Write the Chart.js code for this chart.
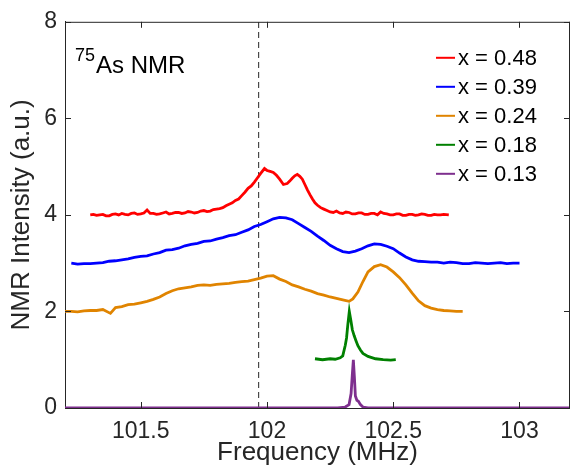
<!DOCTYPE html>
<html>
<head>
<meta charset="utf-8">
<script src="https://cdn.jsdelivr.net/npm/chart.js@4.4.1/dist/chart.umd.min.js"></script>
<style>
  html, body { margin: 0; padding: 0; background: #fff; }
  #wrap { width: 570px; height: 466px; }
</style>
</head>
<body>
<div id="wrap"><canvas id="nmrChart" width="570" height="466"></canvas></div>
<script>
// Series: x = 0.48
const redFreq = [101.3, 101.3125, 101.325, 101.3375, 101.35, 101.3625, 101.375, 101.3875, 101.4, 101.4125,
  101.425, 101.4375, 101.45, 101.4625, 101.475, 101.4875, 101.5, 101.5125, 101.525, 101.5375,
  101.55, 101.5625, 101.575, 101.5875, 101.6, 101.6125, 101.625, 101.6375, 101.65, 101.6625,
  101.675, 101.6875, 101.7, 101.7125, 101.725, 101.7375, 101.75, 101.7625, 101.775, 101.7875,
  101.8, 101.8125, 101.825, 101.8375, 101.85, 101.8625, 101.875, 101.8875, 101.9, 101.9125,
  101.925, 101.9375, 101.95, 101.9625, 101.975, 101.99, 102.0, 102.0125, 102.025, 102.0375,
  102.05, 102.065, 102.08, 102.09, 102.1, 102.11, 102.12, 102.13, 102.14, 102.15,
  102.16, 102.17, 102.18, 102.19, 102.2, 102.2125, 102.225, 102.2375, 102.25, 102.2625,
  102.275, 102.2875, 102.3, 102.3125, 102.325, 102.3375, 102.35, 102.3625, 102.375, 102.3875,
  102.4, 102.4125, 102.425, 102.4375, 102.45, 102.4625, 102.475, 102.4875, 102.5, 102.5125,
  102.525, 102.5375, 102.55, 102.5625, 102.575, 102.5875, 102.6, 102.6125, 102.625, 102.6375,
  102.65, 102.6625, 102.675, 102.6875, 102.7, 102.72];
const redInt = [4.0, 4.01, 3.99, 4.0, 4.01, 3.98, 3.98, 4.01, 4.02, 4.0,
  4.03, 4.01, 4.0, 4.03, 4.04, 4.01, 4.02, 4.04, 4.1, 4.03,
  4.03, 4.01, 4.02, 4.04, 4.06, 4.02, 4.03, 4.05, 4.05, 4.03,
  4.04, 4.07, 4.06, 4.04, 4.05, 4.08, 4.09, 4.07, 4.08, 4.11,
  4.12, 4.13, 4.15, 4.19, 4.22, 4.25, 4.3, 4.33, 4.4, 4.47,
  4.55, 4.6, 4.68, 4.77, 4.86, 4.96, 4.92, 4.9, 4.88, 4.82,
  4.74, 4.63, 4.65, 4.7, 4.76, 4.81, 4.84, 4.8, 4.74, 4.63,
  4.52, 4.42, 4.33, 4.25, 4.2, 4.15, 4.12, 4.09, 4.06, 4.05,
  4.08, 4.04, 4.03, 4.06, 4.05, 4.02, 4.02, 4.04, 4.04, 4.01,
  4.01, 4.03, 4.03, 4.0, 4.06, 4.03, 4.02, 4.0, 4.0, 4.02,
  4.02, 3.99, 3.99, 4.01, 4.01, 3.99, 4.0, 4.02, 4.01, 3.99,
  3.99, 4.01, 4.0, 4.0, 4.01, 4.0];

// Series: x = 0.39
const blueFreq = [101.225, 101.25, 101.275, 101.3, 101.325, 101.35, 101.375, 101.4, 101.425, 101.45,
  101.475, 101.5, 101.525, 101.55, 101.575, 101.6, 101.625, 101.65, 101.675, 101.7,
  101.725, 101.75, 101.775, 101.8, 101.825, 101.85, 101.875, 101.9, 101.925, 101.95,
  101.975, 102.0, 102.025, 102.05, 102.075, 102.1, 102.125, 102.15, 102.175, 102.2,
  102.225, 102.25, 102.275, 102.3, 102.325, 102.35, 102.375, 102.4, 102.425, 102.45,
  102.475, 102.5, 102.525, 102.55, 102.575, 102.6, 102.625, 102.65, 102.675, 102.7,
  102.725, 102.75, 102.775, 102.8, 102.825, 102.85, 102.875, 102.9, 102.925, 102.95,
  102.975, 103.0];
const blueInt = [3.0, 2.98, 2.99, 2.99, 3.0, 3.01, 3.04, 3.05, 3.07, 3.09,
  3.12, 3.14, 3.15, 3.19, 3.22, 3.27, 3.28, 3.31, 3.36, 3.39,
  3.41, 3.45, 3.46, 3.5, 3.53, 3.57, 3.59, 3.64, 3.69, 3.76,
  3.8, 3.86, 3.92, 3.95, 3.94, 3.9, 3.82, 3.74, 3.66, 3.56,
  3.47, 3.37, 3.3, 3.24, 3.22, 3.25, 3.3, 3.36, 3.4, 3.39,
  3.35, 3.3, 3.21, 3.13, 3.07, 3.04, 3.03, 3.02, 3.02, 3.0,
  3.02, 3.01, 2.99, 2.99, 3.01, 3.0, 2.99, 3.0, 3.01, 2.99,
  3.0, 3.0];

// Series: x = 0.24
const orangeFreq = [101.2, 101.225, 101.25, 101.275, 101.3, 101.325, 101.35, 101.38, 101.4, 101.425,
  101.45, 101.475, 101.5, 101.525, 101.55, 101.575, 101.6, 101.625, 101.65, 101.675,
  101.7, 101.725, 101.75, 101.775, 101.8, 101.825, 101.85, 101.875, 101.9, 101.925,
  101.95, 101.975, 102.0, 102.025, 102.05, 102.075, 102.1, 102.125, 102.15, 102.175,
  102.2, 102.225, 102.25, 102.275, 102.3, 102.325, 102.34, 102.36, 102.38, 102.4,
  102.425, 102.45, 102.475, 102.5, 102.525, 102.55, 102.575, 102.6, 102.625, 102.65,
  102.675, 102.7, 102.725, 102.75, 102.775];
const orangeInt = [2.0, 2.0, 1.99, 2.01, 2.02, 2.02, 2.04, 1.96, 2.08, 2.1,
  2.14, 2.15, 2.18, 2.21, 2.25, 2.3, 2.37, 2.43, 2.47, 2.49,
  2.51, 2.54, 2.55, 2.54, 2.56, 2.57, 2.58, 2.6, 2.62, 2.63,
  2.66, 2.69, 2.73, 2.74, 2.67, 2.62, 2.55, 2.51, 2.46, 2.42,
  2.37, 2.34, 2.3, 2.27, 2.24, 2.21, 2.26, 2.4, 2.62, 2.82,
  2.93, 2.97, 2.92, 2.82, 2.7, 2.55, 2.38, 2.22, 2.12, 2.07,
  2.04, 2.02, 2.01, 2.0, 2.0];

// Series: x = 0.18
const greenFreq = [102.19, 102.22, 102.25, 102.27, 102.29, 102.3, 102.31, 102.315, 102.32, 102.326,
  102.332, 102.338, 102.345, 102.352, 102.36, 102.37, 102.38, 102.4, 102.43, 102.46, 102.49, 102.51];
const greenInt = [1.02, 1.0, 1.02, 1.01, 1.04, 1.08, 1.3, 1.45, 1.72, 2.0,
  1.82, 1.62, 1.5, 1.4, 1.29, 1.2, 1.13, 1.07, 1.02, 1.0, 0.99, 1.0];

// Series: x = 0.13
const purpleFreq = [101.2, 102.28, 102.31, 102.325, 102.333, 102.338, 102.342, 102.346, 102.35, 102.356,
  102.362, 102.37, 102.38, 102.4, 103.2];
const purpleInt = [0, 0, 0.02, 0.07, 0.3, 0.7, 1.0, 0.65, 0.25, 0.16,
  0.14, 0.07, 0.02, 0, 0];

const seriesLabels = ["x = 0.48", "x = 0.39", "x = 0.24", "x = 0.18", "x = 0.13"];
const dashFreq = 101.967;   // dashed reference line
const xTicks = [101.5, 102, 102.5, 103];
const yTicks = [0, 2, 4, 6, 8];

const axisColor = "#262626";
const fontFamily = "'Liberation Sans', Arial, Helvetica, sans-serif";

function pts(xs, ys) {
  return xs.map((v, i) => ({ x: v, y: ys[i] }));
}

function line(label, xs, ys, color) {
  return {
    label: label,
    data: pts(xs, ys),
    borderColor: color,
    backgroundColor: color,
    borderWidth: 2.8,
    pointRadius: 0,
    tension: 0,
  };
}

// axes box, inward ticks, legend and the 75As label
const decor = {
  id: "decor",
  afterDatasetsDraw(chart) {
    const { ctx, chartArea: a, scales } = chart;
    const x = scales.x, y = scales.y;
    ctx.save();
    ctx.strokeStyle = axisColor;
    ctx.lineWidth = 1;
    ctx.beginPath();
    ctx.moveTo(a.left, a.top + 0.5);
    ctx.lineTo(a.right, a.top + 0.5);
    ctx.moveTo(a.right - 0.5, a.top);
    ctx.lineTo(a.right - 0.5, a.bottom);
    x.ticks.forEach((t) => {
      const px = Math.round(x.getPixelForValue(t.value)) + 0.5;
      ctx.moveTo(px, a.bottom);
      ctx.lineTo(px, a.bottom - 6);
      ctx.moveTo(px, a.top);
      ctx.lineTo(px, a.top + 6);
    });
    y.ticks.forEach((t) => {
      const py = Math.round(y.getPixelForValue(t.value)) + 0.5;
      ctx.moveTo(a.left, py);
      ctx.lineTo(a.left + 6, py);
      ctx.moveTo(a.right, py);
      ctx.lineTo(a.right - 6, py);
    });
    ctx.stroke();

    // legend
    ctx.font = "22px " + fontFamily;
    ctx.textBaseline = "middle";
    ctx.textAlign = "left";
    chart.data.datasets.forEach((ds, i) => {
      if (!ds.label) return;
      const ly = a.top + 36 + i * 29;
      ctx.strokeStyle = ds.borderColor;
      ctx.lineWidth = 2;
      ctx.beginPath();
      ctx.moveTo(a.right - 134, ly);
      ctx.lineTo(a.right - 115, ly);
      ctx.stroke();
      ctx.fillStyle = "#000";
      ctx.fillText(ds.label, a.right - 112, ly + 1);
    });

    // 75As NMR annotation
    ctx.fillStyle = "#000";
    ctx.textBaseline = "alphabetic";
    ctx.font = "18px " + fontFamily;
    ctx.fillText("75", a.left + 10, a.top + 39);
    ctx.font = "24px " + fontFamily;
    ctx.fillText("As NMR", a.left + 31, a.top + 51);
    ctx.restore();
  },
};

const ctx = document.getElementById("nmrChart").getContext("2d");
new Chart(ctx, {
  type: "line",
  data: {
    datasets: [
      line(seriesLabels[0], redFreq, redInt, "#ff0000"),
      line(seriesLabels[1], blueFreq, blueInt, "#0000ff"),
      line(seriesLabels[2], orangeFreq, orangeInt, "#e08400"),
      line(seriesLabels[3], greenFreq, greenInt, "#008000"),
      line(seriesLabels[4], purpleFreq, purpleInt, "#7e2f8e"),
      {
        label: "",
        data: [{ x: dashFreq, y: 0 }, { x: dashFreq, y: 8 }],
        borderColor: axisColor,
        borderWidth: 1,
        borderDash: [6, 4],
        pointRadius: 0,
      },
    ],
  },
  options: {
    responsive: false,
    animation: false,
    devicePixelRatio: 1,
    layout: { padding: { top: 16, right: 0, left: 0, bottom: 0 } },
    plugins: {
      legend: { display: false },
      tooltip: { enabled: false },
    },
    scales: {
      x: {
        type: "linear",
        min: 101.2,
        max: 103.2,
        afterBuildTicks: (scale) => { scale.ticks = xTicks.map((v) => ({ value: v })); },
        afterFit: (scale) => { scale.height = 58; },
        grid: { display: false, drawTicks: false },
        border: { display: true, color: axisColor, width: 1 },
        ticks: {
          padding: 10,
          color: axisColor,
          font: { size: 23, family: fontFamily },
          maxRotation: 0,
          callback: (v) => String(v),
        },
        title: {
          display: true,
          text: "Frequency (MHz)",
          color: axisColor,
          font: { size: 26, family: fontFamily },
          padding: { top: 0, bottom: -2 },
        },
      },
      y: {
        min: 0,
        max: 8,
        afterBuildTicks: (scale) => { scale.ticks = yTicks.map((v) => ({ value: v })); },
        afterFit: (scale) => { scale.width = 65; },
        grid: { display: false, drawTicks: false },
        border: { display: true, color: axisColor, width: 1 },
        ticks: {
          padding: 8,
          color: axisColor,
          font: { size: 23, family: fontFamily },
        },
        title: {
          display: true,
          text: "NMR Intensity (a.u.)",
          color: axisColor,
          font: { size: 26, family: fontFamily },
          padding: { top: 6, bottom: 0 },
        },
      },
    },
  },
  plugins: [decor],
});
</script>
</body>
</html>
